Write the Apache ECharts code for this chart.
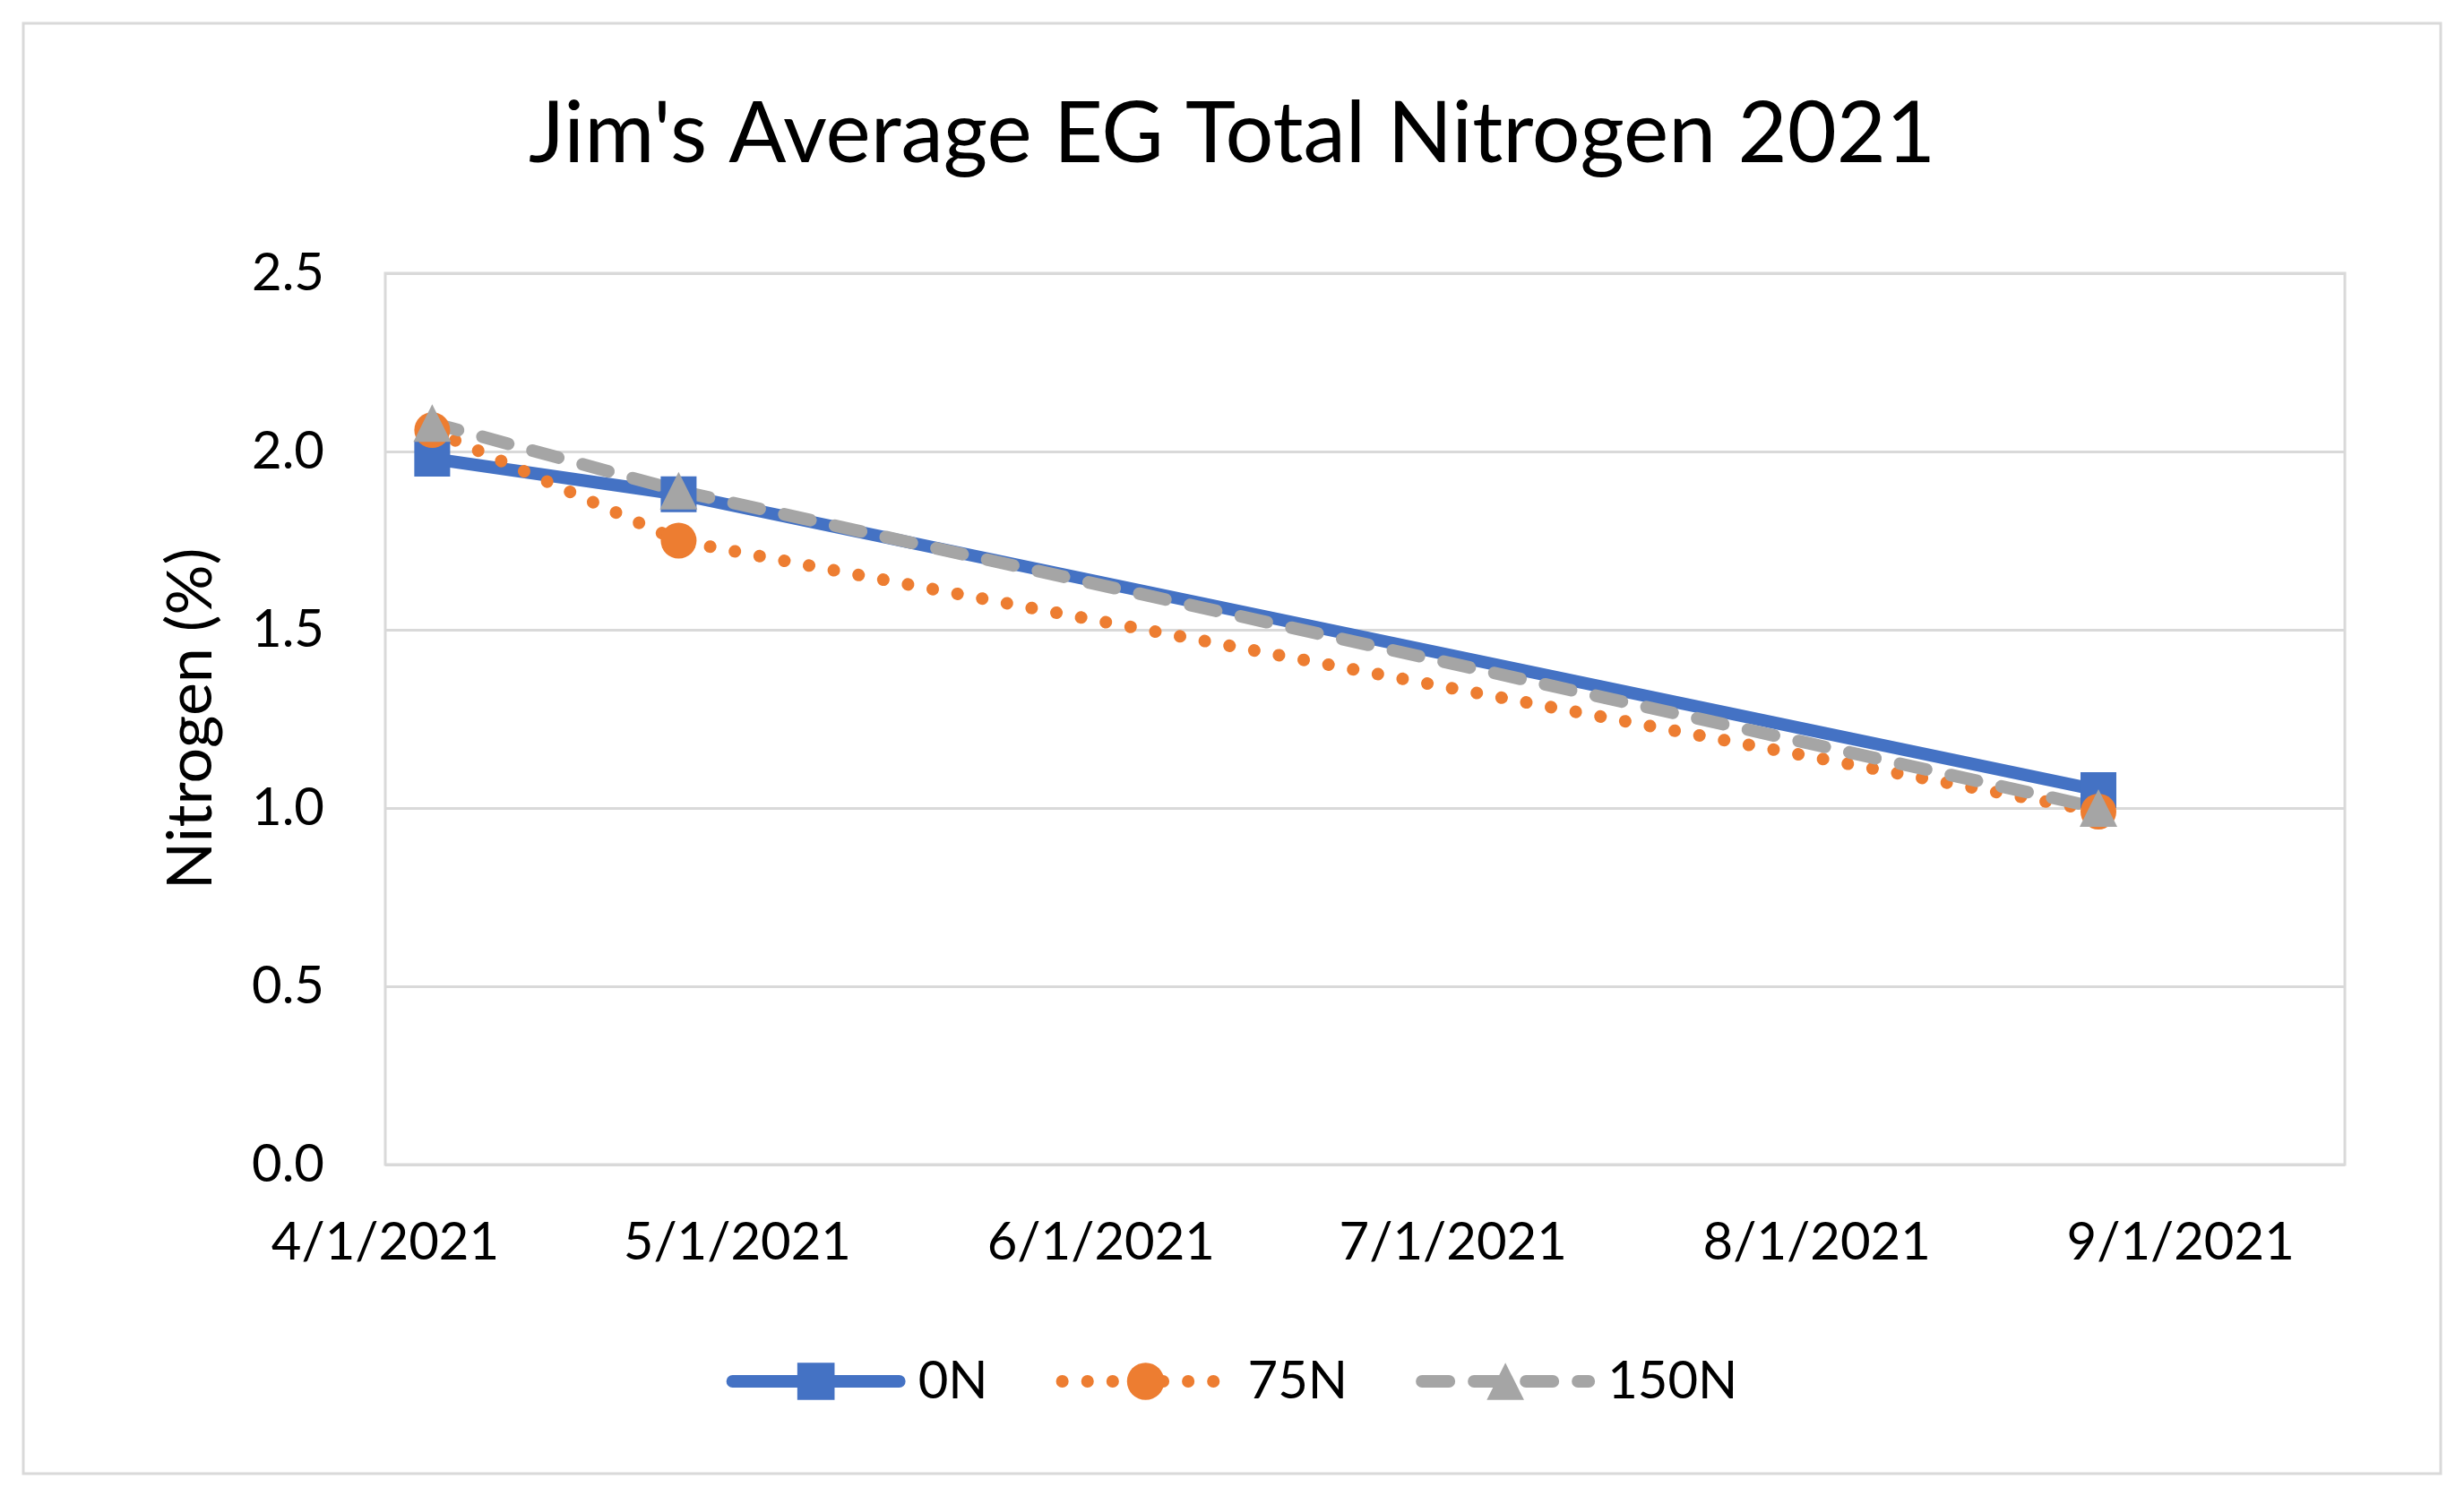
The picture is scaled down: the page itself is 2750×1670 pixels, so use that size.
<!DOCTYPE html>
<html>
<head>
<meta charset="utf-8">
<script src="https://cdn.jsdelivr.net/npm/echarts@6/dist/echarts.min.js"></script>
<style>
html,body{margin:0;padding:0;background:#fff;}
#chart{width:2750px;height:1670px;}
</style>
</head>
<body>
<div id="chart"></div>
<script>
// ---- data ----
const sampleDates = ['2021-04-05', '2021-04-26', '2021-08-25'];
const seriesNames = ['0N', '75N', '150N'];
const values0N = [1.98, 1.88, 1.05];
const values75N = [2.06, 1.75, 0.99];
const values150N = [2.08, 1.89, 1.00];
const xTickDates = ['2021-04-01', '2021-05-01', '2021-06-01', '2021-07-01', '2021-08-01', '2021-09-01'];
const xMinDate = '2021-04-01';
const xMaxDate = '2021-09-15';
const yTicks = [0, 0.5, 1.0, 1.5, 2.0, 2.5];
const titleText = "Jim's Average EG Total Nitrogen 2021";
const yAxisTitle = 'Nitrogen (%)';

function toTs(s) {
  const p = s.split('-').map(Number);
  return new Date(p[0], p[1] - 1, p[2]).getTime();
}
function pairs(vals) {
  return sampleDates.map((d, i) => [toTs(d), vals[i]]);
}

const FONT = 'Lato';
const LW = 14;
const chart = echarts.init(document.getElementById('chart'), null, {renderer: 'canvas'});

const option = {
  backgroundColor: '#fff',
  animation: false,
  textStyle: {fontFamily: FONT, color: '#000'},
  graphic: [{
    type: 'rect',
    shape: {x: 26, y: 26, width: 2698, height: 1619},
    style: {fill: 'none', stroke: '#D9D9D9', lineWidth: 3},
    silent: true
  }],
  title: {
    text: titleText,
    left: 'center',
    top: 98,
    textStyle: {fontFamily: FONT, fontSize: 95, fontWeight: 'normal', color: '#000'}
  },
  grid: {
    left: 430, right: 133, top: 305, bottom: 370,
    show: true, borderColor: '#D9D9D9', borderWidth: 3, backgroundColor: 'transparent'
  },
  xAxis: {
    type: 'value',
    min: toTs(xMinDate),
    max: toTs(xMaxDate),
    axisLine: {show: false},
    axisTick: {show: false},
    splitLine: {show: false},
    axisLabel: {
      customValues: xTickDates.map(toTs),
      fontFamily: FONT, fontSize: 58, color: '#000', margin: 58,
      formatter: function (v) {
        const d = new Date(v);
        return (d.getMonth() + 1) + '/' + d.getDate() + '/' + d.getFullYear();
      }
    }
  },
  yAxis: {
    type: 'value',
    min: yTicks[0],
    max: yTicks[yTicks.length - 1],
    interval: 0.5,
    name: yAxisTitle,
    nameLocation: 'middle',
    nameGap: 182,
    nameTextStyle: {fontFamily: FONT, fontSize: 70, color: '#000'},
    axisLine: {show: false},
    axisTick: {show: false},
    splitLine: {lineStyle: {color: '#D9D9D9', width: 3}},
    axisLabel: {
      fontFamily: FONT, fontSize: 58, color: '#000', margin: 68,
      formatter: v => v.toFixed(1)
    }
  },
  legend: {
    bottom: 94,
    left: 'center',
    itemWidth: 186,
    itemHeight: 52,
    itemGap: 76,
    lineStyle: {width: LW, cap: 'round'},
    textStyle: {fontFamily: FONT, fontSize: 58, color: '#000', padding: [0, 0, 0, 16]},
    data: seriesNames
  },
  series: [
    {
      name: seriesNames[0], type: 'line', data: pairs(values0N),
      symbol: 'rect', symbolSize: 40,
      itemStyle: {color: '#4472C4'},
      lineStyle: {color: '#4472C4', width: LW, cap: 'round'}
    },
    {
      name: seriesNames[1], type: 'line', data: pairs(values75N),
      symbol: 'circle', symbolSize: 40,
      itemStyle: {color: '#ED7D31'},
      lineStyle: {color: '#ED7D31', width: LW, type: [0.1, 28], cap: 'round'}
    },
    {
      name: seriesNames[2], type: 'line', data: pairs(values150N),
      symbol: 'triangle', symbolSize: 42,
      itemStyle: {color: '#A5A5A5'},
      lineStyle: {color: '#A5A5A5', width: LW, type: [30, 28], cap: 'round'}
    }
  ]
};
chart.setOption(option);
</script>
</body>
</html>
